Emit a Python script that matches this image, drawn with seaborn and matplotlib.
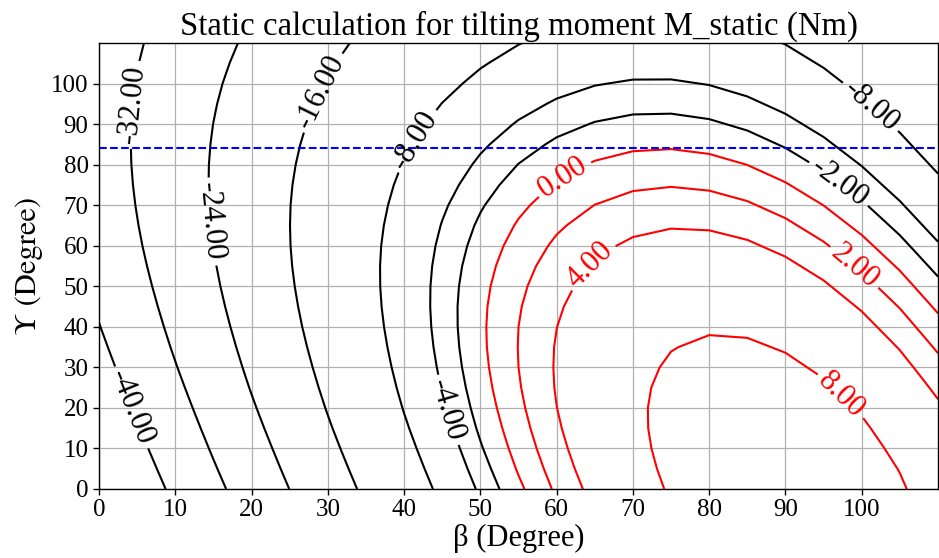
import matplotlib
matplotlib.use("Agg")
import numpy as np
import pandas as pd
import matplotlib.pyplot as plt
import seaborn as sns

# ---- data ----
beta_deg = [0, 5, 10, 15, 20, 25, 30, 35, 40, 45, 50, 55, 60, 65, 70, 75, 80, 85, 90, 95, 100, 105, 110]
gamma_deg = [0, 5, 10, 15, 20, 25, 30, 35, 40, 45, 50, 55, 60, 65, 70, 75, 80, 85, 90, 95, 100, 105, 110]

# M_static (Nm); one row per gamma value, columns follow beta_deg
m_g000 = [-49.00, -43.84, -38.70, -33.65, -28.71, -23.94, -19.35, -14.99, -10.88, -7.07, -3.58, -0.43, 2.35, 4.75, 6.72, 8.28, 9.40, 10.08, 10.30, 10.08, 9.40, 8.28, 6.72]
m_g005 = [-47.81, -42.65, -37.53, -32.51, -27.61, -22.88, -18.34, -14.04, -10.00, -6.27, -2.85, 0.21, 2.91, 5.20, 7.08, 8.54, 9.56, 10.13, 10.25, 9.92, 9.14, 7.92, 6.27]
m_g010 = [-46.62, -41.48, -36.39, -31.41, -26.55, -21.87, -17.39, -13.16, -9.20, -5.54, -2.21, 0.77, 3.36, 5.56, 7.34, 8.70, 9.61, 10.08, 10.09, 9.66, 8.78, 7.47, 5.71]
m_g015 = [-45.45, -40.34, -35.29, -30.35, -25.54, -20.92, -16.51, -12.36, -8.47, -4.90, -1.65, 1.22, 3.72, 5.82, 7.50, 8.75, 9.56, 9.92, 9.83, 9.30, 8.33, 6.91, 5.07]
m_g020 = [-44.31, -39.24, -34.23, -29.34, -24.59, -20.04, -15.71, -11.63, -7.83, -4.34, -1.20, 1.58, 3.98, 5.98, 7.55, 8.70, 9.40, 9.66, 9.47, 8.85, 7.77, 6.27, 4.34]
m_g025 = [-43.21, -38.18, -33.22, -28.39, -23.71, -19.24, -14.98, -10.99, -7.27, -3.89, -0.84, 1.84, 4.14, 6.03, 7.50, 8.54, 9.14, 9.30, 9.02, 8.29, 7.13, 5.54, 3.54]
m_g030 = [-42.15, -37.17, -32.27, -27.51, -22.91, -18.51, -14.34, -10.43, -6.82, -3.53, -0.58, 2.00, 4.19, 5.98, 7.34, 8.28, 8.78, 8.85, 8.46, 7.65, 6.40, 4.74, 2.66]
m_g035 = [-41.14, -36.22, -31.39, -26.71, -22.18, -17.87, -13.78, -9.98, -6.46, -3.27, -0.42, 2.05, 4.14, 5.82, 7.08, 7.92, 8.33, 8.29, 7.82, 6.92, 5.60, 3.86, 1.71]
m_g040 = [-40.19, -35.34, -30.59, -25.98, -21.54, -17.31, -13.33, -9.62, -6.20, -3.11, -0.37, 2.00, 3.98, 5.56, 6.72, 7.47, 7.77, 7.65, 7.09, 6.12, 4.72, 2.91, 0.70]
m_g045 = [-39.31, -34.54, -29.86, -25.34, -20.98, -16.86, -12.97, -9.36, -6.04, -3.06, -0.42, 1.84, 3.72, 5.20, 6.27, 6.91, 7.13, 6.92, 6.29, 5.24, 3.77, 1.90, -0.36]
m_g050 = [-38.51, -33.81, -29.22, -24.78, -20.53, -16.50, -12.71, -9.20, -5.99, -3.11, -0.58, 1.58, 3.36, 4.75, 5.71, 6.27, 6.40, 6.12, 5.41, 4.29, 2.76, 0.84, -1.46]
m_g055 = [-37.78, -33.17, -28.66, -24.33, -20.17, -16.24, -12.55, -9.15, -6.04, -3.27, -0.84, 1.22, 2.91, 4.19, 5.07, 5.54, 5.60, 5.24, 4.46, 3.28, 1.70, -0.26, -2.60]
m_g060 = [-37.14, -32.61, -28.21, -23.97, -19.91, -16.08, -12.50, -9.20, -6.20, -3.53, -1.20, 0.77, 2.35, 3.55, 4.34, 4.74, 4.72, 4.29, 3.45, 2.22, 0.60, -1.40, -3.77]
m_g065 = [-36.58, -32.16, -27.85, -23.71, -19.75, -16.03, -12.55, -9.36, -6.46, -3.89, -1.65, 0.21, 1.71, 2.82, 3.54, 3.86, 3.77, 3.28, 2.39, 1.12, -0.54, -2.57, -4.96]
m_g070 = [-36.13, -31.80, -27.59, -23.55, -19.70, -16.08, -12.71, -9.62, -6.82, -4.34, -2.21, -0.43, 0.98, 2.02, 2.66, 2.91, 2.76, 2.22, 1.29, -0.02, -1.71, -3.76, -6.15]
m_g075 = [-35.77, -31.54, -27.43, -23.50, -19.75, -16.24, -12.97, -9.98, -7.27, -4.90, -2.85, -1.16, 0.18, 1.14, 1.71, 1.90, 1.70, 1.12, 0.15, -1.19, -2.90, -4.95, -7.34]
m_g080 = [-35.51, -31.38, -27.38, -23.55, -19.91, -16.50, -13.33, -10.43, -7.83, -5.54, -3.58, -1.96, -0.70, 0.19, 0.70, 0.84, 0.60, -0.02, -1.02, -2.38, -4.09, -6.14, -8.53]
m_g085 = [-35.35, -31.33, -27.43, -23.71, -20.17, -16.86, -13.78, -10.99, -8.47, -6.27, -4.38, -2.84, -1.65, -0.82, -0.36, -0.26, -0.54, -1.19, -2.21, -3.57, -5.28, -7.33, -9.70]
m_g090 = [-35.30, -31.38, -27.59, -23.97, -20.53, -17.31, -14.34, -11.63, -9.20, -7.07, -5.26, -3.79, -2.66, -1.88, -1.46, -1.40, -1.71, -2.38, -3.40, -4.76, -6.47, -8.50, -10.84]
m_g095 = [-35.35, -31.54, -27.85, -24.33, -20.98, -17.87, -14.98, -12.36, -10.00, -7.95, -6.21, -4.80, -3.72, -2.98, -2.60, -2.57, -2.90, -3.57, -4.59, -5.95, -7.64, -9.64, -11.94]
m_g100 = [-35.51, -31.80, -28.21, -24.78, -21.54, -18.51, -15.71, -13.16, -10.88, -8.90, -7.22, -5.86, -4.82, -4.12, -3.77, -3.76, -4.09, -4.76, -5.78, -7.12, -8.78, -10.74, -13.00]
m_g105 = [-35.77, -32.16, -28.66, -25.34, -22.18, -19.24, -16.51, -14.04, -11.83, -9.91, -8.28, -6.96, -5.96, -5.29, -4.96, -4.95, -5.28, -5.95, -6.95, -8.26, -9.88, -11.80, -14.01]
m_g110 = [-36.13, -32.61, -29.22, -25.98, -22.91, -20.04, -17.39, -14.99, -12.84, -10.97, -9.38, -8.10, -7.13, -6.48, -6.15, -6.14, -6.47, -7.12, -8.09, -9.36, -10.94, -12.81, -14.96]

levels = [-40, -32, -24, -16, -8, -4, -2, 0, 2, 4, 8]
gamma_limit = 84
tick_values = [0, 10, 20, 30, 40, 50, 60, 70, 80, 90, 100]

# where the inline level labels sit (beta, gamma)
label_anchors = [(4.8, 20.5), (4.2, 94.8), (15.2, 66.0), (29.0, 98.0), (41.5, 86.0),
                 (46.6, 20.0), (60.7, 77.5), (64.4, 55.3), (97.4, 76.3), (102.0, 96.0),
                 (99.5, 55.8), (97.8, 24.0)]

# ---- build field table ----
rows = [m_g000, m_g005, m_g010, m_g015, m_g020, m_g025, m_g030, m_g035, m_g040, m_g045,
        m_g050, m_g055, m_g060, m_g065, m_g070, m_g075, m_g080, m_g085, m_g090, m_g095,
        m_g100, m_g105, m_g110]
field = pd.DataFrame(rows, index=gamma_deg, columns=beta_deg)

sns.set_style("ticks")
plt.rcParams["font.family"] = ["Liberation Serif", "DejaVu Serif"]
plt.rcParams["text.color"] = "black"
plt.rcParams["axes.labelcolor"] = "black"
plt.rcParams["xtick.color"] = "black"
plt.rcParams["ytick.color"] = "black"

fig = plt.figure(figsize=(9.39, 5.58), dpi=100)
ax = fig.add_axes([0.1054, 0.1237, 0.8936, 0.7993])

line_colors = ["k" if lv < 0 else "r" for lv in levels]
cs = ax.contour(field.columns.values, field.index.values, field.values,
                levels=levels, colors=line_colors, linewidths=1.5)
ax.clabel(cs, fmt="%.2f", fontsize=22, inline=True, manual=label_anchors)

ax.axhline(gamma_limit, color="b", linestyle="--", linewidth=1.5)

ax.set_xlim(0, 110)
ax.set_ylim(0, 110)
ax.set_xticks(tick_values)
ax.set_yticks(tick_values)
ax.grid(True, color="#b0b0b0", linewidth=0.9)
ax.set_axisbelow(True)
for sp in ax.spines.values():
    sp.set_color("black")
    sp.set_linewidth(1.0)
ax.tick_params(axis="both", direction="out", length=4, width=1, labelsize=18,
               colors="black")

ax.set_title("Static calculation for tilting moment M_static (Nm)", fontsize=23.6,
             pad=6, color="black")
ax.set_xlabel("β (Degree)", fontsize=22, labelpad=2, color="black")
ax.set_ylabel("Υ (Degree)", fontsize=22, labelpad=6, color="black",
              family=["STIXGeneral", "Liberation Serif", "DejaVu Serif"])

fig.savefig("out.png", dpi=100)
